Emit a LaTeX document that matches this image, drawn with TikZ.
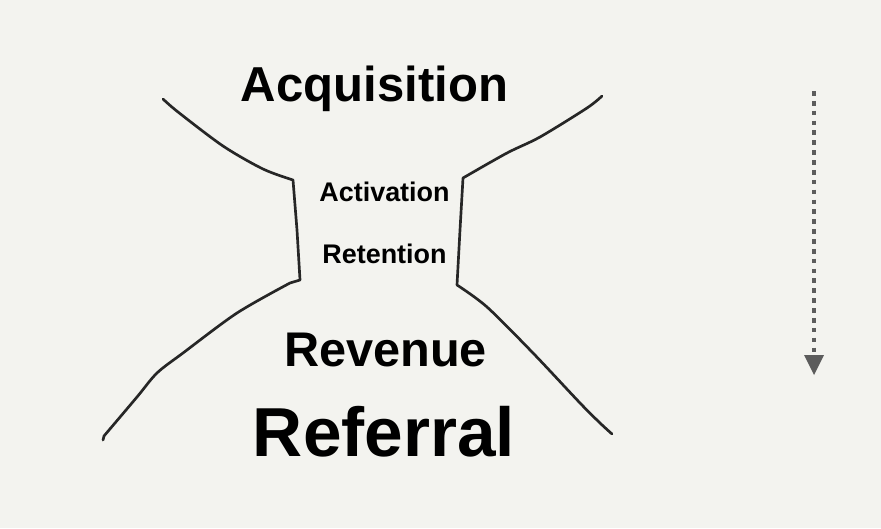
\documentclass[tikz,border=0pt]{standalone}
\usepackage{fontspec}
\setmainfont{Liberation Sans}
\usetikzlibrary{arrows.meta,calc}
\definecolor{bg}{HTML}{F3F3EF}
\definecolor{ink}{HTML}{262626}
\definecolor{arrowgray}{HTML}{5C5C5C}
\tikzset{
  sketch/.style={draw=ink, line width=2pt, line cap=round, line join=round},
  label/.style={anchor=base, inner sep=0pt, text=black, font=\bfseries},
}
\begin{document}
\begin{tikzpicture}[x=0.75pt,y=-0.75pt]
\useasboundingbox (0,0) rectangle (881,528);
\fill[bg] (0,0) rectangle (881,528);
% left outline
\draw[sketch] plot[smooth, tension=0.5] coordinates {(163,99) (178,112) (223,146) (263,169) (293,180)}
  -- (297,230) -- (300,280) -- (290,283)
  plot[smooth, tension=0.5] coordinates {(290,283) (237,313) (183,353) (157,373) (137,397) (104,436)} -- (103,440);
% right outline
\draw[sketch] plot[smooth, tension=0.5] coordinates {(602,96) (587,108) (540,137) (507,153) (463,178)}
  -- (460,230) -- (457,285)
  plot[smooth, tension=0.5] coordinates {(457,285) (487,307) (533,353) (580,403) (600,423) (612,434)};
% labels
\node[label, font=\bfseries\fontsize{36.8}{40}\selectfont] (acq) at (374.5,102) {Acquisition};
\node[label, font=\bfseries\fontsize{20.2}{24}\selectfont] (act) at (384.5,201.5) {Activation};
\node[label, font=\bfseries\fontsize{20.2}{24}\selectfont] (ret) at (384.5,263) {Retention};
\node[label, font=\bfseries\fontsize{36.5}{40}\selectfont] (rev) at (385.5,366.5) {Revenue};
\node[label, font=\bfseries\fontsize{52}{56}\selectfont] (ref) at (384,456.5) {Referral};
% dotted arrow
\coordinate (atop) at (814,91);
\coordinate (abot) at (814,355);
\coordinate (atip) at (814,375);
\draw[draw=arrowgray, line width=3.5pt, dash pattern=on 3.5pt off 3.9pt] (atop) -- (abot);
\fill[arrowgray] ($(abot)+(-10,0)$) -- ($(abot)+(10,0)$) -- (atip) -- cycle;
\end{tikzpicture}
\end{document}
